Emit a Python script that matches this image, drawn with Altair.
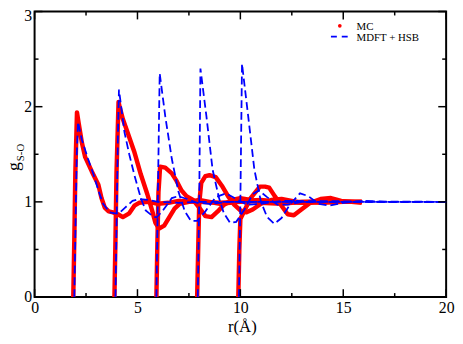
import altair as alt
import pandas as pd

# ---------------- data ----------------
# Monte Carlo g(r), five solute sizes
mc1_r = [1.88, 1.93, 1.98, 2.06, 2.14, 2.3, 2.46, 2.78, 3.1, 3.25, 3.41, 3.6, 3.81, 4.05, 4.29, 4.6, 4.85, 5.08, 5.5, 6.0, 6.5, 7.0, 8.0, 9.0, 10.0, 11.0, 12.0, 13.0, 14.0, 15.0, 15.9]
mc1_g = [0.0, 0.6, 1.3, 1.94, 1.83, 1.62, 1.47, 1.32, 1.18, 1.04, 0.94, 0.9, 0.89, 0.87, 0.84, 0.88, 0.96, 0.99, 1.0, 0.98, 0.99, 1.01, 1.0, 0.99, 1.0, 1.01, 1.0, 1.0, 0.99, 1.0, 1.0]
mc2_r = [3.88, 3.93, 3.98, 4.08, 4.13, 4.29, 4.52, 4.84, 5.16, 5.48, 5.71, 5.87, 6.05, 6.3, 6.55, 6.8, 7.05, 7.5, 8.0, 8.5, 9.0, 9.5, 10.0, 11.0, 12.0, 13.0, 14.0, 15.0, 15.9]
mc2_g = [0.0, 0.6, 1.3, 2.05, 2.0, 1.87, 1.73, 1.53, 1.29, 1.08, 0.91, 0.78, 0.72, 0.75, 0.84, 0.93, 0.98, 1.0, 1.02, 1.0, 0.98, 0.99, 1.01, 1.02, 1.0, 0.99, 1.0, 1.0, 1.0]
mc3_r = [5.92, 5.97, 6.02, 6.1, 6.35, 6.67, 6.9, 7.14, 7.38, 7.7, 8.0, 8.3, 8.6, 8.9, 9.2, 9.6, 10.0, 10.5, 11.0, 12.0, 13.0, 14.0, 15.0, 15.9]
mc3_g = [0.0, 0.6, 1.1, 1.37, 1.36, 1.3, 1.22, 1.12, 1.06, 1.02, 0.94, 0.85, 0.84, 0.9, 0.97, 1.02, 1.04, 1.02, 0.99, 0.98, 1.0, 1.01, 1.0, 1.0]
mc4_r = [7.9, 7.95, 8.0, 8.1, 8.3, 8.5, 8.8, 9.1, 9.4, 9.7, 10.0, 10.3, 10.6, 11.0, 11.5, 12.0, 12.5, 13.0, 14.0, 15.0, 15.9]
mc4_g = [0.0, 0.5, 0.98, 1.2, 1.27, 1.28, 1.26, 1.17, 1.06, 0.97, 0.91, 0.89, 0.92, 0.98, 1.02, 1.03, 1.01, 0.99, 1.0, 1.0, 1.0]
mc5_r = [9.9, 9.95, 10.0, 10.2, 10.5, 10.95, 11.2, 11.4, 11.67, 12.0, 12.3, 12.6, 12.9, 13.4, 13.9, 14.4, 14.9, 15.4, 15.9]
mc5_g = [0.0, 0.5, 0.82, 0.91, 1.04, 1.16, 1.16, 1.15, 1.06, 0.96, 0.87, 0.86, 0.91, 0.99, 1.03, 1.04, 1.01, 1.0, 0.99]

# MDFT + HSB g(r)
df1_r = [1.93, 2.0, 2.05, 2.11, 2.3, 2.6, 2.86, 3.1, 3.33, 3.65, 3.9, 4.1, 4.4, 4.76, 5.08, 5.5, 6.0, 7.0, 8.0, 10.0, 20.0]
df1_g = [0.0, 0.9, 1.5, 1.84, 1.65, 1.45, 1.29, 1.12, 0.98, 0.89, 0.88, 0.88, 0.94, 1.01, 1.03, 1.02, 1.0, 0.99, 1.0, 1.0, 1.0]
df2_r = [3.93, 4.0, 4.05, 4.1, 4.37, 4.6, 4.84, 5.16, 5.4, 5.8, 5.95, 6.27, 6.67, 6.98, 7.4, 7.9, 8.5, 9.5, 20.0]
df2_g = [0.0, 1.0, 1.7, 2.18, 1.73, 1.5, 1.29, 1.04, 0.91, 0.84, 0.84, 0.92, 1.04, 1.06, 1.03, 0.99, 0.98, 1.0, 1.0]
df3_r = [5.92, 6.0, 6.08, 6.35, 6.67, 7.0, 7.3, 7.6, 7.9, 8.3, 8.8, 9.3, 9.8, 10.3, 11.0, 12.0, 20.0]
df3_g = [0.0, 1.2, 2.35, 1.9, 1.45, 1.1, 0.9, 0.8, 0.8, 0.9, 1.05, 1.09, 1.03, 0.97, 0.98, 1.01, 1.0]
df4_r = [7.93, 8.0, 8.06, 8.35, 8.65, 8.95, 9.2, 9.5, 9.8, 10.2, 10.6, 10.9, 11.3, 11.8, 12.3, 13.0, 20.0]
df4_g = [0.0, 1.0, 2.4, 1.9, 1.34, 1.05, 0.88, 0.78, 0.79, 0.92, 1.08, 1.12, 1.05, 0.97, 0.97, 1.0, 1.0]
df5_r = [9.93, 10.0, 10.08, 10.38, 10.68, 11.0, 11.3, 11.65, 12.0, 12.4, 12.9, 13.3, 13.8, 14.3, 15.0, 16.0, 17.0, 20.0]
df5_g = [0.0, 1.0, 2.45, 1.9, 1.34, 1.0, 0.84, 0.77, 0.83, 0.97, 1.09, 1.06, 0.98, 0.96, 0.99, 1.01, 1.0, 1.0]

# axes
x_major = [0, 5, 10, 15, 20]
x_minor = [2.5, 7.5, 12.5, 17.5]
y_major = [0, 1, 2, 3]
y_minor = [0.5, 1.5, 2.5]
legend_labels = ["MC", "MDFT + HSB"]
x_title = "r(Å)"
y_title_main = "g"
y_title_sub = "S-O"

# ---------------- build ----------------
W, H = 418, 290
FONT = "Liberation Serif"
RED = "#ff0000"
BLUE = "#0000ff"


def to_long(curves):
    rows = []
    for i, (rr, gg) in enumerate(curves):
        for a, b in zip(rr, gg):
            rows.append({"r": a, "g": b, "curve": i})
    return pd.DataFrame(rows)


mc_df = to_long([(mc1_r, mc1_g), (mc2_r, mc2_g), (mc3_r, mc3_g), (mc4_r, mc4_g), (mc5_r, mc5_g)])
dft_df = to_long([(df1_r, df1_g), (df2_r, df2_g), (df3_r, df3_g), (df4_r, df4_g), (df5_r, df5_g)])

xs = alt.Scale(domain=[0, 20], nice=False, zero=False)
ys = alt.Scale(domain=[0, 3], nice=False, zero=False)

x_axis = alt.Axis(values=x_major, ticks=False, domain=False, grid=False, labelFlush=False,
                  labelFont=FONT, labelFontSize=16, labelColor="black", labelPadding=3,
                  labelOverlap=False, title=None)
y_axis = alt.Axis(values=y_major, ticks=False, domain=False, grid=False,
                  labelFont=FONT, labelFontSize=16, labelColor="black", labelPadding=3,
                  labelOverlap=False, title=None,
                  labelOffset={"condition": {"test": "datum.value == 3", "value": 4}, "value": 0})

X = lambda f: alt.X(f, scale=xs, axis=x_axis)
Y = lambda f: alt.Y(f, scale=ys, axis=y_axis)

mc_layer = alt.Chart(mc_df).mark_line(color=RED, strokeWidth=4.5, strokeJoin="round").encode(
    x=X("r:Q"), y=Y("g:Q"), detail="curve:N",
)
dft_layer = alt.Chart(dft_df).mark_line(color=BLUE, strokeWidth=1.8, strokeDash=[8, 4]).encode(
    x=X("r:Q"), y=Y("g:Q"), detail="curve:N",
)

xmaj = pd.DataFrame({"v": x_major})
xmin = pd.DataFrame({"v": x_minor})
ymaj = pd.DataFrame({"v": y_major})
ymin = pd.DataFrame({"v": y_minor})

tick_layers = []
for d, L in ((xmaj, 8), (xmin, 4)):
    tick_layers.append(alt.Chart(d).mark_rule(color="black", strokeWidth=1.5).encode(
        x=X("v:Q"), y=alt.value(H), y2=alt.value(H - L)))
    tick_layers.append(alt.Chart(d).mark_rule(color="black", strokeWidth=1.5).encode(
        x=X("v:Q"), y=alt.value(0), y2=alt.value(L)))
for d, L in ((ymaj, 8), (ymin, 4)):
    tick_layers.append(alt.Chart(d).mark_rule(color="black", strokeWidth=1.5).encode(
        y=Y("v:Q"), x=alt.value(0), x2=alt.value(L)))
    tick_layers.append(alt.Chart(d).mark_rule(color="black", strokeWidth=1.5).encode(
        y=Y("v:Q"), x=alt.value(W), x2=alt.value(W - L)))

# legend
leg_mc = pd.DataFrame({"t": [legend_labels[0]]})
leg_dft = pd.DataFrame({"t": [legend_labels[1]]})
leg_dot = alt.Chart(leg_mc).mark_point(filled=True, color=RED, size=14, opacity=1).encode(
    x=alt.value(310), y=alt.value(14.5))
leg_dash = alt.Chart(leg_dft).mark_rule(color=BLUE, strokeWidth=1.8, strokeDash=[6, 5]).encode(
    x=alt.value(301), x2=alt.value(319), y=alt.value(25.5))
leg_t1 = alt.Chart(leg_mc).mark_text(font=FONT, fontSize=11, align="left", baseline="alphabetic", color="black").encode(
    text="t:N", x=alt.value(327), y=alt.value(18.5))
leg_t2 = alt.Chart(leg_dft).mark_text(font=FONT, fontSize=11, align="left", baseline="alphabetic", color="black").encode(
    text="t:N", x=alt.value(327), y=alt.value(30))

# titles
xt = alt.Chart(pd.DataFrame({"t": [x_title]})).mark_text(
    font=FONT, fontSize=17, align="center", baseline="alphabetic", color="black").encode(
    text="t:N", x=alt.value(W / 2 + 2), y=alt.value(325))
yt1 = alt.Chart(pd.DataFrame({"t": [y_title_main]})).mark_text(
    font=FONT, fontSize=18, angle=270, align="left", baseline="alphabetic", color="black").encode(
    text="t:N", x=alt.value(-15.5), y=alt.value(162))
yt2 = alt.Chart(pd.DataFrame({"t": [y_title_sub]})).mark_text(
    font=FONT, fontSize=11, angle=270, align="left", baseline="alphabetic", color="black").encode(
    text="t:N", x=alt.value(-10.5), y=alt.value(152))

chart = alt.layer(
    mc_layer, dft_layer, *tick_layers, leg_dot, leg_dash, leg_t1, leg_t2, xt, yt1, yt2
).properties(
    width=W, height=H,
    autosize=alt.AutoSizeParams(type="none"),
    padding={"left": 27, "top": 1, "right": 9, "bottom": 37},
    background="white",
).configure_view(stroke="black", strokeWidth=2)

chart.save("out.html", embed_options={"renderer": "svg", "actions": False})
